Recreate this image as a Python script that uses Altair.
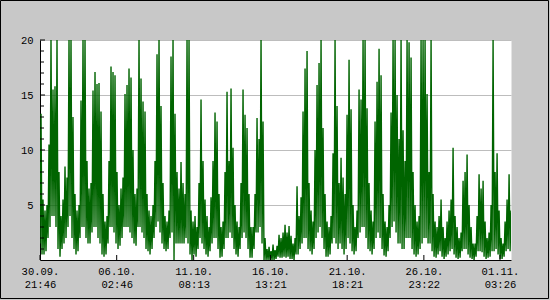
import altair as alt
import pandas as pd

# x-axis tick labels (date / time) and their positions in hours from start
tick_dates = ["30.09.", "06.10.", "11.10.", "16.10.", "21.10.", "26.10.", "01.11."]
tick_times = ["21:46", "02:46", "08:13", "13:21", "18:21", "23:22", "03:26"]
tick_hours = [0, 125.0, 250.45, 375.58, 500.58, 625.6, 749.67]

# y-axis values
y_major = [5, 10, 15, 20]
y_minor = [1, 2, 3, 4, 6, 7, 8, 9, 11, 12, 13, 14, 16, 17, 18, 19]

# per-interval max / min of the series, ~3.26 h per interval
hi = [
    13.3, 5.5, 4.5, 5, 10.5, 20, 15.5, 15.8, 20, 8, 4, 5.5, 8.5, 7.5, 20, 20, 13, 6, 4.5, 5,
    14.5, 20, 20, 9, 6.5, 7, 15.4, 17.1, 16, 16.1, 13.5, 6, 3.5, 4, 9, 17.6, 17.1, 16.8, 8, 5, 6.5,
    7.5, 15.1, 15.9, 17.4, 16.6, 10, 6, 6.5, 20, 16.5, 14.4, 13.5, 6, 4.5, 4, 5, 9, 18.7, 20, 14,
    7, 4, 3.5, 4.5, 18.5, 20, 13.3, 8, 6.5, 8.9, 7, 6, 20, 20, 4.5, 3.5, 4, 3, 7, 14.6,
    9, 5.5, 4, 3, 5.7, 9, 13.4, 12.6, 6, 3, 3.5, 8, 15.3, 9, 15.6, 10.2, 5, 3.5, 3, 7,
    15.5, 13.2, 12, 6, 3, 3, 6, 12.9, 11, 20, 12.6, 2, 1, 1.2, 0.8, 1.4, 0.9, 1.3, 2.3, 2,
    2.5, 3.2, 2.5, 3.1, 2.2, 1.5, 2, 6.7, 4, 5.7, 13.5, 17.4, 19, 7, 4.5, 3.5, 10, 15.9, 17.9, 20,
    12, 6, 3.5, 3, 4, 9.7, 20, 14, 7, 9.3, 7.5, 6, 13.2, 18.2, 13.7, 5, 3, 4.5, 15.5, 14.6,
    20, 20, 13.8, 7, 4.5, 3.5, 12.6, 16.2, 19.2, 16.8, 6, 3.5, 3, 5, 13.4, 20, 20, 15, 11, 20,
    11.8, 9, 20, 19.8, 18.4, 8, 5, 3.5, 4, 20, 20, 20, 15.1, 8, 20, 6, 3.5, 3, 4, 5.5,
    3, 2, 3.5, 4.5, 5.5, 10.2, 4, 3, 2, 2.5, 7.2, 8, 9.6, 5, 3, 1.5, 1.5, 4, 7.8, 6.5,
    7.2, 3.5, 2, 2.5, 5, 20, 8, 9.7, 4.5, 2, 1.5, 3.5, 5.5, 7.8, 4.5,
]
lo = [
    1.5, 0.5, 0.5, 0.8, 2, 3, 4, 4, 3, 1, 0.3, 1, 1.5, 2, 3, 4, 2, 1, 0.5, 0.8,
    2, 3, 3, 2, 1.5, 1.5, 2.5, 3, 3, 2, 1.5, 0.5, 0.3, 0.5, 1.5, 3, 3, 2.5, 1.5, 1, 1.3,
    2, 3, 3, 3, 2.5, 2, 1.5, 1.3, 3, 3, 2.5, 2, 1, 0.8, 0.5, 1, 2, 3, 3.5, 2.5,
    1.5, 1, 0.8, 1, 2, 2.5, 0, 1.5, 1.5, 1.5, 1.5, 1.5, 2, 1.5, 0.5, 0, 0.5, 0.3, 1, 2,
    1.5, 1, 0.5, 0.3, 0.8, 1.5, 2, 2, 1, 0.2, 0.3, 1, 2, 2, 2.5, 2, 1, 0.5, 0.3, 1,
    2, 2.5, 2, 1, 0.2, 0.2, 1, 2.5, 2.5, 3, 1.5, 0, 0, 0, 0, 0, 0, 0.1, 0.3, 0.2,
    0.2, 0.3, 0.2, 0.3, 0.1, 0.1, 0, 0.5, 0.5, 1, 1.5, 2, 2, 1, 0.8, 0.5, 1, 2, 2.5, 3,
    2, 1, 0.3, 0.3, 0.5, 1.5, 2, 1.5, 1, 1.5, 1, 0.5, 1, 2, 1.5, 0.8, 0.5, 0.8, 2, 2.5,
    3, 3, 2, 1, 0.8, 0.5, 1, 2, 2.5, 2, 1, 0.4, 0.3, 0.8, 2, 3, 3.5, 2.5, 1.5, 1.5,
    1, 1, 2, 2, 2, 1, 0.5, 0.3, 0.5, 1, 1.5, 2, 2, 1.5, 1.5, 0.8, 0.3, 0.2, 0.5, 0.8,
    0.3, 0.1, 0.3, 0.5, 0.8, 1, 0.5, 0.2, 0.1, 0.2, 0.8, 1, 1, 0.5, 0.2, 0.1, 0, 0.3, 0.8, 0.8,
    0.7, 0.3, 0.1, 0.2, 0.3, 0.8, 0.8, 1, 0.5, 0.1, 0.1, 0.3, 0.8, 1, 0.8,
]

STEP = 3.26          # hours per sampling interval
X_MAX = 767.6        # hours shown across the plot
W, H = 471, 220

rows = []
for i, (a, b) in enumerate(zip(lo, hi)):
    rows.append({"t": i * STEP, "v": a, "k": 2 * i})
    rows.append({"t": i * STEP + STEP / 2, "v": b, "k": 2 * i + 1})
series = pd.DataFrame(rows)

# multi-line x labels
expr = ""
for i in range(len(tick_hours) - 1):
    mid = (tick_hours[i] + tick_hours[i + 1]) / 2
    expr += f"datum.value < {mid} ? ['{tick_dates[i]}', '{tick_times[i]}'] : "
expr += f"['{tick_dates[-1]}', '{tick_times[-1]}']"

FONT = "Liberation Mono"
xscale = alt.Scale(domain=[0, X_MAX], nice=False, zero=False)
yscale = alt.Scale(domain=[0, 20], nice=False)

xaxis = alt.Axis(values=tick_hours, labelExpr=expr, grid=False, ticks=False,
                 domainColor="black", labelColor="black", labelFont=FONT,
                 labelFontSize=10.5, labelLineHeight=13, labelPadding=6,
                 labelFlush=False, labelOverlap=False, title=None)
yaxis = alt.Axis(values=y_major, grid=True, gridColor="#bdbdbd", ticks=False,
                 domainColor="black", labelColor="black", labelFont=FONT,
                 labelFontSize=10.5, labelPadding=7, labelFlush=False,
                 labelOverlap=False, title=None)

# grid / axes layer (drawn under the series)
axes = alt.Chart(pd.DataFrame({"t": tick_hours[:4], "v": y_major})).mark_point(opacity=0).encode(
    x=alt.X("t:Q", scale=xscale, axis=xaxis),
    y=alt.Y("v:Q", scale=yscale, axis=yaxis),
)

line = alt.Chart(series).mark_line(color="#006400", strokeWidth=1.4, clip=True).encode(
    x=alt.X("t:Q"),
    y=alt.Y("v:Q"),
    order="k:Q",
)

minor = alt.Chart(pd.DataFrame({"v": y_minor})).mark_rule(color="black", strokeWidth=1).encode(
    y=alt.Y("v:Q"), x=alt.value(0), x2=alt.value(4))
major = alt.Chart(pd.DataFrame({"v": y_major})).mark_rule(color="black", strokeWidth=1).encode(
    y=alt.Y("v:Q"), x=alt.value(0), x2=alt.value(5))
xticks = alt.Chart(pd.DataFrame({"t": tick_hours})).mark_rule(color="black", strokeWidth=1).encode(
    x=alt.X("t:Q"), y=alt.value(H - 5), y2=alt.value(H))

frame = alt.Chart(pd.DataFrame({"a": [0]})).mark_rect(fill="transparent", stroke="black", strokeWidth=1).encode(
    x=alt.value(-39.5), x2=alt.value(508.5), y=alt.value(-39.5), y2=alt.value(258.5))

chart = alt.layer(axes, line, minor, major, xticks, frame).properties(
    width=W, height=H,
    padding={"left": 40, "top": 40, "right": 39, "bottom": 40},
    autosize=alt.AutoSizeParams(type="none"),
    background="#c8c8c8",
).configure_view(fill="white", stroke="transparent")

chart.save("out.html", embed_options={"renderer": "svg", "actions": False})
